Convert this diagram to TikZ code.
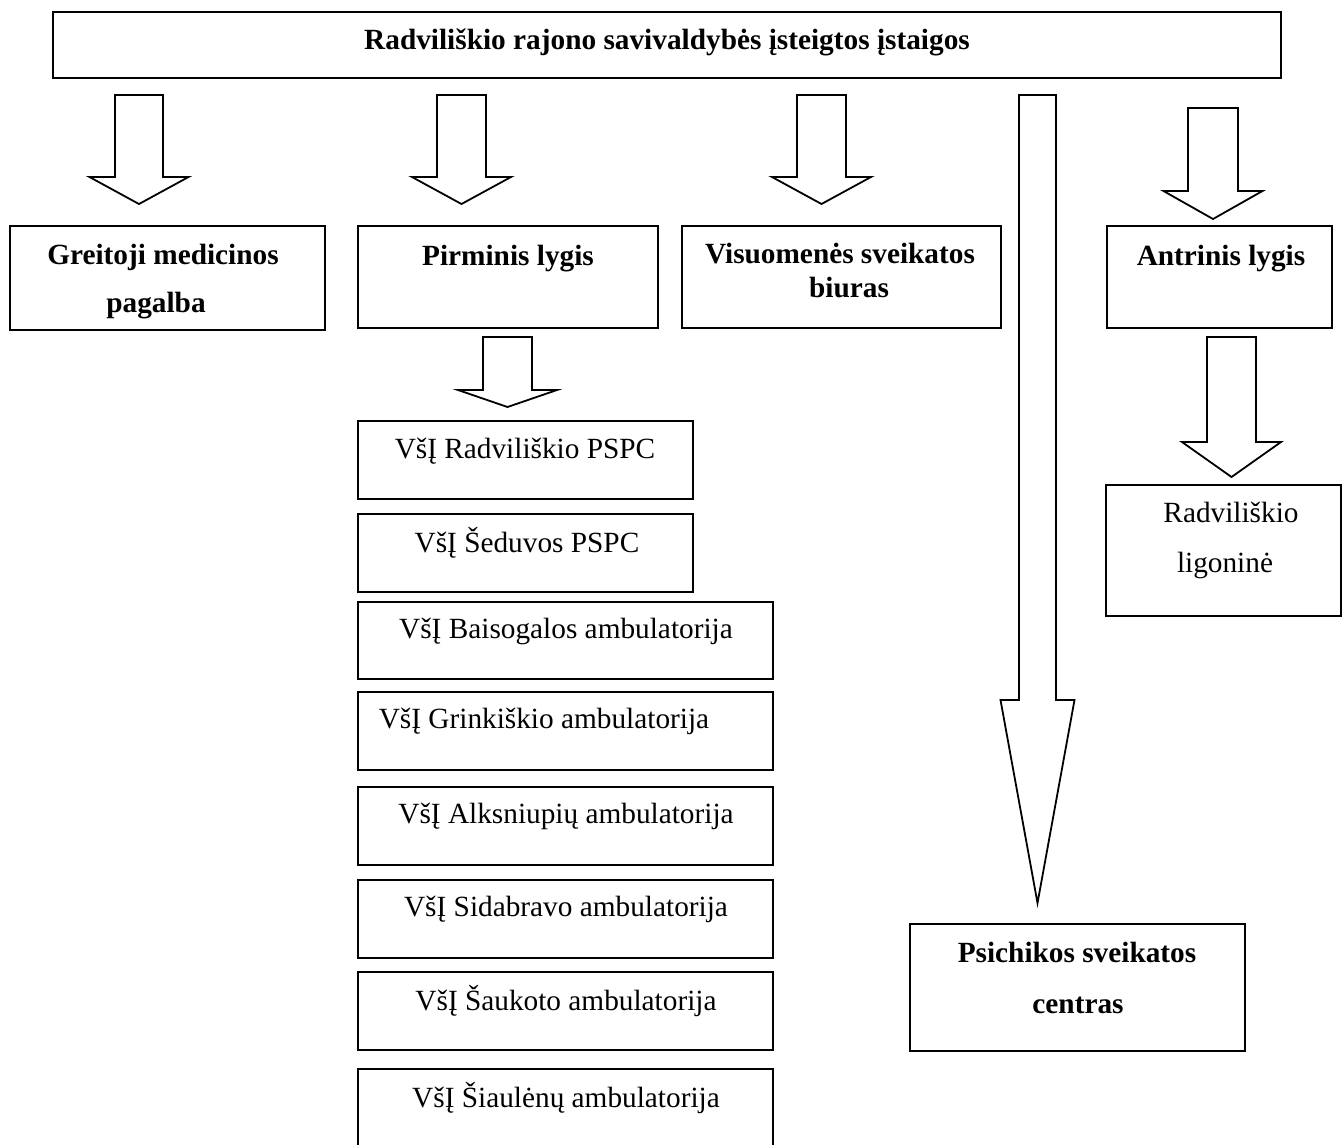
\documentclass[tikz,border=0pt]{standalone}
\usepackage{fontspec}
\setmainfont{Liberation Serif}
\newcommand\blkarrow[6]{% #1 cx, #2 top, #3 shaft half, #4 head half, #5 head base, #6 tip
  \draw[barrow] (#1-#3,#2) -- (#1+#3,#2) -- (#1+#3,#5) -- (#1+#4,#5) -- (#1,#6) -- (#1-#4,#5) -- (#1-#3,#5) -- cycle;}
\begin{document}
\begin{tikzpicture}[x=1pt,y=-1pt,
  box/.style={draw, line width=2pt, inner sep=0pt, fill=white},
  hbox/.style={box, line width=2.4pt},
  barrow/.style={draw, line width=1.8pt, line join=miter, fill=white},
  lbl/.style={anchor=base, inner sep=0pt, font=\fontsize{29.3}{35}\selectfont},
  blbl/.style={lbl, font=\fontsize{29.3}{35}\selectfont\bfseries}]
\useasboundingbox (0,0) rectangle (1343,1144);
\clip (0,0) rectangle (1343,1144);
% boxes
\node[hbox, line width=2.8pt, minimum width=1228pt, minimum height=66pt] (top) at (667,45) {};
\node[hbox, minimum width=315pt, minimum height=104pt] (greit) at (167.5,278) {};
\node[hbox, minimum width=300pt, minimum height=102pt] (pirm) at (508,277) {};
\node[hbox, minimum width=319pt, minimum height=102pt] (visu) at (841.5,277) {};
\node[hbox, minimum width=225pt, minimum height=102pt] (antr) at (1219.5,277) {};
\node[hbox, minimum width=335pt, minimum height=127pt] (psich) at (1077.5,987.5) {};
\node[box, minimum width=235pt, minimum height=131pt] (lig) at (1223.5,550.5) {};
\node[box, minimum width=335pt, minimum height=78pt] (l1) at (525.5,460) {};
\node[box, minimum width=335pt, minimum height=78pt] (l2) at (525.5,553) {};
\node[box, minimum width=415pt, minimum height=77pt] (l3) at (565.5,640.5) {};
\node[box, minimum width=415pt, minimum height=78pt] (l4) at (565.5,731) {};
\node[box, minimum width=415pt, minimum height=78pt] (l5) at (565.5,826) {};
\node[box, minimum width=415pt, minimum height=78pt] (l6) at (565.5,919) {};
\node[box, minimum width=415pt, minimum height=78pt] (l7) at (565.5,1011) {};
\node[box, minimum width=415pt, minimum height=101pt] (l8) at (565.5,1119.5) {};
% texts
\node[blbl] (ttop) at (667,49) {Radviliškio rajono savivaldybės įsteigtos įstaigos};
\node[blbl] (tgreit1) at (163,264) {Greitoji medicinos};
\node[blbl] (tgreit2) at (156,312) {pagalba};
\node[blbl] (tpirm) at (508,265) {Pirminis lygis};
\node[blbl] (tvisu1) at (840,263) {Visuomenės sveikatos};
\node[blbl] (tvisu2) at (849,297) {biuras};
\node[blbl] (tantr) at (1221,265) {Antrinis lygis};
\node[blbl] (tpsich1) at (1077,962) {Psichikos sveikatos};
\node[blbl] (tpsich2) at (1078,1013) {centras};
\node[lbl] (tlig1) at (1231,522) {Radviliškio};
\node[lbl] (tlig2) at (1225,572) {ligoninė};
\node[lbl] (tl1) at (525,458) {VšĮ Radviliškio PSPC};
\node[lbl] (tl2) at (527,552) {VšĮ Šeduvos PSPC};
\node[lbl] (tl3) at (566,638) {VšĮ Baisogalos ambulatorija};
\node[lbl] (tl4) at (544,728) {VšĮ Grinkiškio ambulatorija};
\node[lbl] (tl5) at (566,823) {VšĮ Alksniupių ambulatorija};
\node[lbl] (tl6) at (566,916) {VšĮ Sidabravo ambulatorija};
\node[lbl] (tl7) at (566,1010) {VšĮ Šaukoto ambulatorija};
\node[lbl] (tl8) at (566,1107) {VšĮ Šiaulėnų ambulatorija};
% block arrows
\blkarrow{139}{95}{24}{49.5}{177}{204}
\blkarrow{461.5}{95}{24.5}{49.5}{177}{204}
\blkarrow{821.5}{95}{24.5}{49.5}{177}{204}
\blkarrow{1037.5}{95}{18.5}{37}{700}{903}
\blkarrow{1213}{108}{25}{49.5}{191}{219}
\blkarrow{507.5}{337}{24.5}{49.5}{390}{407}
\blkarrow{1231.5}{337}{24.5}{49.5}{442}{477}
\end{tikzpicture}
\end{document}
